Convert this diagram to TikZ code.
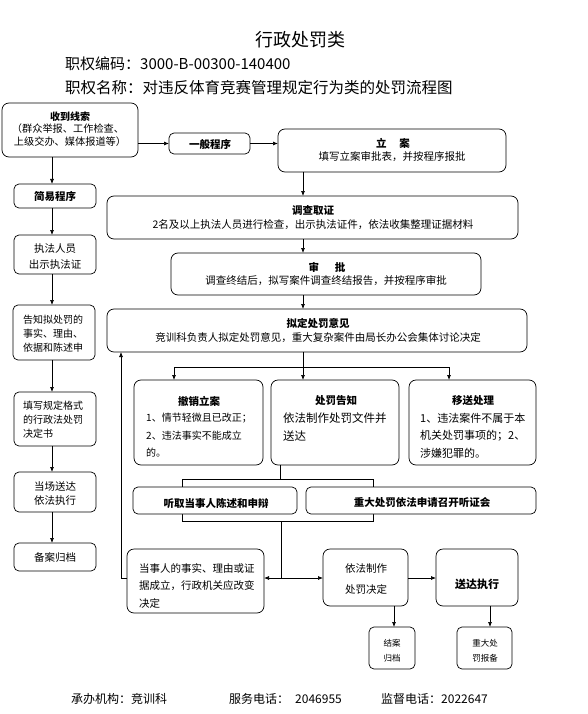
\documentclass[tikz,border=0pt]{standalone}
\usepackage{fontspec}
\setmainfont{Noto Sans CJK SC}
\usetikzlibrary{arrows.meta}
\newcommand\mybox[6][]{\node[box,#1,minimum width={(#5-#3)*1pt},minimum height={(#6-#4)*1pt}] (#2) at ({(#3+#5)/2},{(#4+#6)/2}) {};}
\newcommand\fs[1]{\fontsize{#1}{#1}\selectfont}
\begin{document}
\begin{tikzpicture}[x=1pt,y=-1pt,
  box/.style={draw, rounded corners=7pt, line width=0.7pt, fill=white, inner sep=0pt, outer sep=0pt},
  sbox/.style={rounded corners=5pt},
  arr/.style={line width=0.7pt, -{Latex[length=5pt,width=4pt]}},
  ln/.style={line width=0.7pt},
  t/.style={inner sep=0pt, anchor=center, font=\fs{10.5}},
  tb/.style={inner sep=0pt, anchor=center, font=\fs{10.5}\bfseries},
  tl/.style={inner sep=0pt, anchor=west, font=\fs{10.5}}]
\fill[white] (0,0) rectangle (587,714);
\useasboundingbox (0,0) rectangle (587,714);

% header
\node[inner sep=0pt, font=\fs{18}] (title) at (300,40) {行政处罚类};
\node[inner sep=0pt, anchor=west, font=\fs{15}] (code) at (65,64) {职权编码：3000-B-00300-140400};
\node[inner sep=0pt, anchor=west, font=\fs{15.5}] (pname) at (65,88) {职权名称：对违反体育竞赛管理规定行为类的处罚流程图};

% bracket behind the two hearing boxes
\draw[ln] (182,479) rectangle (373,521);

% boxes
\mybox{src}{2}{103}{138}{157}
\mybox[sbox]{gen}{169}{133}{250}{154}
\mybox{lian}{278}{129}{506}{172}
\mybox[sbox]{jy}{14}{184}{96}{208}
\mybox{dc}{107}{196}{518}{239}
\mybox[sbox]{zf}{14}{235}{96}{274}
\mybox{sp}{171}{253}{481}{295}
\mybox[sbox]{gz}{13}{305}{95}{360}
\mybox{nd}{107}{309}{527}{352}
\mybox{cx}{134}{380}{263}{465}
\mybox{cf}{271}{380}{399}{465}
\mybox{ys}{409}{380}{536}{465}
\mybox[sbox]{tx}{14}{392}{96}{446}
\mybox[sbox]{dd}{14}{472}{96}{512}
\mybox[sbox]{ta}{133}{487}{297}{514}
\mybox[sbox]{tz}{306}{487}{536}{514}
\mybox[sbox]{ba}{14}{543}{96}{571}
\mybox{dsr}{127}{549}{264}{613}
\mybox{yf}{323}{549}{408}{606}
\mybox{sd}{436}{549}{518}{606}
\mybox[sbox]{ja}{369}{627}{415}{669}
\mybox[sbox]{bb}{457}{627}{512}{669}

% texts
\node[tb, font=\fs{10}\bfseries] (t1) at (70,117) {收到线索};
\node[t, font=\fs{10.2}] (t2) at (68,129) {（群众举报、工作检查、};
\node[t, font=\fs{10.2}] (t3) at (70,142) {上级交办、媒体报道等）};
\node[tb] (t4) at (210,144) {一般程序};
\node[tb] (t5) at (393,143) {立\hspace{1.2em}案};
\node[t] (t6) at (392,157) {填写立案审批表，并按程序报批};
\node[tb] (t7) at (55,196) {简易程序};
\node[tb] (t8) at (313,211) {调查取证};
\node[t] (t9) at (313,225) {2名及以上执法人员进行检查，出示执法证件，依法收集整理证据材料};
\node[t] (t10) at (55,249) {执法人员};
\node[t] (t11) at (55,265) {出示执法证};
\node[tb] (t12) at (327,267) {审\hspace{1.5em}批};
\node[t] (t13) at (326,281) {调查终结后，拟写案件调查终结报告，并按程序审批};
\node[tl, font=\fs{10}] (t14) at (23,320) {告知拟处罚的};
\node[tl, font=\fs{10}] (t15) at (23,334) {事实、理由、};
\node[tl, font=\fs{10}] (t16) at (23,348) {依据和陈述申};
\node[tb] (t17) at (318,323) {拟定处罚意见};
\node[t] (t18) at (318,338) {竞训科负责人拟定处罚意见，重大复杂案件由局长办公会集体讨论决定};
\node[tb] (t19) at (199,401) {撤销立案};
\node[tl, font=\fs{10}] (t20) at (146,418) {1、情节轻微且已改正；};
\node[tl, font=\fs{10}] (t21) at (146,436) {2、违法事实不能成立};
\node[tl, font=\fs{10}] (t22) at (146,453) {的。};
\node[tb] (t23) at (336,401) {处罚告知};
\node[tl, font=\fs{11.5}] (t24) at (283,418) {依法制作处罚文件并};
\node[tl, font=\fs{11.5}] (t25) at (283,436) {送达};
\node[tb] (t26) at (473,401) {移送处理};
\node[tl, font=\fs{11}] (t27) at (420,418) {1、违法案件不属于本};
\node[tl, font=\fs{11}] (t28) at (420,436) {机关处罚事项的；2、};
\node[tl, font=\fs{11}] (t29) at (420,453) {涉嫌犯罪的。};
\node[tl, font=\fs{10}] (t30) at (23,406) {填写规定格式};
\node[tl, font=\fs{10}] (t31) at (23,420) {的行政法处罚};
\node[tl, font=\fs{10}] (t32) at (23,434) {决定书};
\node[t] (t33) at (55,487) {当场送达};
\node[t] (t34) at (55,501) {依法执行};
\node[tb] (t35) at (216,503) {听取当事人陈述和申辩};
\node[tb] (t36) at (422,503) {重大处罚依法申请召开听证会};
\node[t] (t37) at (55,557) {备案归档};
\node[tl] (t38) at (139,568) {当事人的事实、理由或证};
\node[tl] (t39) at (139,586) {据成立，行政机关应改变};
\node[tl] (t40) at (139,603) {决定};
\node[t] (t41) at (366,569) {依法制作};
\node[t] (t42) at (366,589) {处罚决定};
\node[tb, font=\fs{11}\bfseries] (t43) at (477,584) {送达执行};
\node[t, font=\fs{8.5}] (t44) at (392,643) {结案};
\node[t, font=\fs{8.5}] (t45) at (392,658) {归档};
\node[t, font=\fs{8.5}] (t46) at (485,643) {重大处};
\node[t, font=\fs{8.5}] (t47) at (485,658) {罚报备};

% footer
\node[inner sep=0pt, anchor=west, font=\fs{12}] (f1) at (71,699) {承办机构：竞训科};
\node[inner sep=0pt, anchor=west, font=\fs{12}] (f2) at (229,699) {服务电话：\hspace{6pt}2046955};
\node[inner sep=0pt, anchor=west, font=\fs{12}] (f3) at (381,699) {监督电话：2022647};

% connectors
\coordinate (lx) at (52,0);
\coordinate (mx) at (303,0);
\coordinate (ux) at (121,0);
\draw[arr] (src.east |- gen) -- (gen.west);
\draw[arr] (gen.east) -- (gen.east -| lian.west);
\draw[arr] (lx |- src.south) -- (lx |- jy.north);
\draw[arr] (lx |- jy.south) -- (lx |- zf.north);
\draw[arr] (lx |- zf.south) -- (lx |- gz.north);
\draw[arr] (lx |- gz.south) -- (lx |- tx.north);
\draw[arr] (lx |- tx.south) -- (lx |- dd.north);
\draw[arr] (lx |- dd.south) -- (lx |- ba.north);
\draw[arr] (mx |- lian.south) -- (mx |- dc.north);
\draw[arr] (mx |- dc.south) -- (mx |- sp.north);
\draw[arr] (mx |- sp.south) -- (mx |- nd.north);
\coordinate (b1) at (174,367);
\coordinate (b3) at (449,367);
\draw[ln] (mx |- nd.south) -- (mx |- b1);
\draw[ln] (b1) -- (b3);
\draw[arr] (b1) -- (b1 |- cx.north);
\draw[arr] (mx |- b1) -- (mx |- cf.north);
\draw[arr] (b3) -- (b3 |- ys.north);
\coordinate (cb) at (280,479);
\draw[ln] (cb |- cf.south) -- (cb);
\coordinate (m) at (281,578);
\draw[ln] (281,521) -- (m);
\draw[arr] (m) -- (m -| dsr.east);
\draw[arr] (m) -- (m -| yf.west);
\draw[arr] (dsr.west |- m) -| (ux |- nd.south);
\draw[arr] (yf.east |- m) -- (m -| sd.west);
\draw[arr] (394,606) -- (394,627);
\draw[arr] (490,606) -- (490,627);
\end{tikzpicture}
\end{document}
